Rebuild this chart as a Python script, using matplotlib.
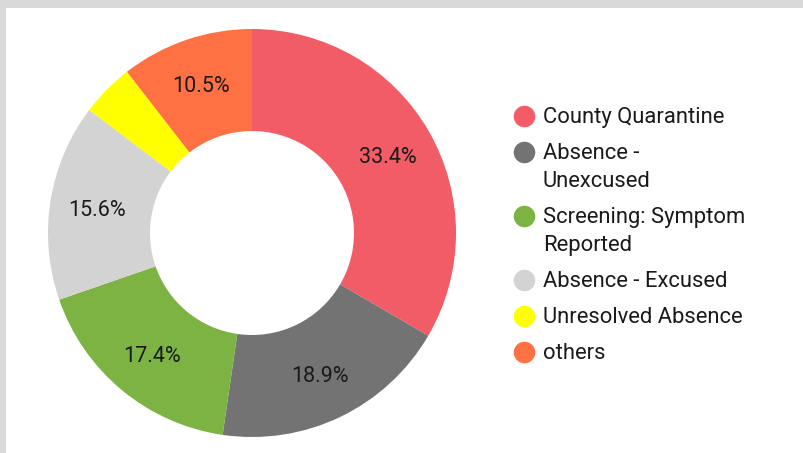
import matplotlib
matplotlib.use("Agg")
import matplotlib.pyplot as plt
from matplotlib.patches import Rectangle
from matplotlib.lines import Line2D

categories = ["County Quarantine", "Absence -\nUnexcused", "Screening: Symptom\nReported",
              "Absence - Excused", "Unresolved Absence", "others"]
values = [33.4, 18.9, 17.4, 15.6, 4.2, 10.5]
colors = ["#f25c66", "#737373", "#7cb342", "#d3d3d3", "#ffff00", "#ff7043"]

plt.rcParams['font.family'] = ['Roboto', 'DejaVu Sans']

W, H = 804, 453
fig = plt.figure(figsize=(W / 100, H / 100), dpi=100)
fig.patch.set_facecolor("#d9d9d9")
# white panel
fig.patches.append(Rectangle((6 / W, 0), 1, 1 - 8 / H, transform=fig.transFigure,
                             facecolor="white", edgecolor="none", zorder=-5))

cx, cy, R = 252, 233, 204
ax = fig.add_axes([(cx - R) / W, (H - cy - R) / H, 2 * R / W, 2 * R / H])
ax.set_zorder(2)
ax.set_facecolor("none")
wedges, texts, autotexts = ax.pie(
    values, colors=colors, startangle=90, counterclock=False,
    wedgeprops=dict(width=0.5, edgecolor="none"),
    autopct=lambda p: f"{p:.1f}%" if p > 5 else "",
    pctdistance=0.77, textprops=dict(fontsize=15.5, color="#1a1a1a"))
for t in autotexts:
    x, y = t.get_position()
    t.set_position((x, y - 0.012))
ax.set_xlim(-1, 1)
ax.set_ylim(-1, 1)
ax.set_aspect("equal")

# legend
y0 = 116
line_h = 28
gap = 36
y = y0
for lab, col in zip(categories, colors):
    fig.add_artist(Line2D([524 / W], [1 - y / H], marker="o", markersize=15.5,
                          color=col, markeredgecolor="none", linestyle="none",
                          transform=fig.transFigure))
    lines = lab.split("\n")
    for i, ln in enumerate(lines):
        fig.text(543 / W, 1 - (y + 1.5 + i * line_h) / H, ln, fontsize=15.8, color="#1a1a1a",
                 va="center", ha="left")
    y += gap + (len(lines) - 1) * line_h

fig.savefig("out.png", dpi=100, facecolor=fig.get_facecolor())
